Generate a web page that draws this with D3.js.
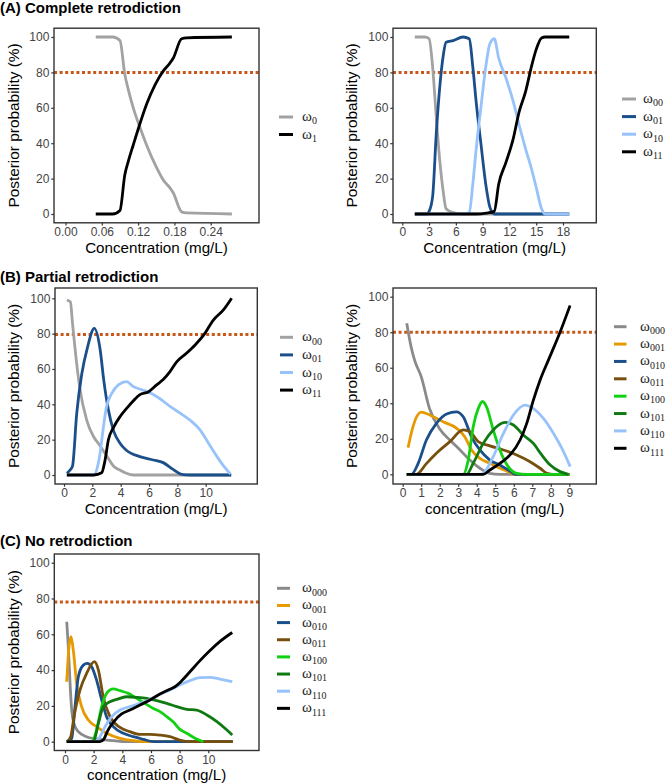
<!DOCTYPE html>
<html>
<head>
<meta charset="utf-8">
<title>Posterior probability panels</title>
<script src="https://cdnjs.cloudflare.com/ajax/libs/d3/7.8.5/d3.min.js"></script>
<style>
  body { margin: 0; background: #fff; }
  svg text { font-family: "Liberation Sans", Arial, sans-serif; }
</style>
</head>
<body>
<svg id="viz" width="666" height="784"></svg>
<script>
// ---- data: [concentration (mg/L), posterior probability (%)] ----

// (A) complete retrodiction, left
var aL_w0 = [[0.05,100],[0.078,100],[0.090,98],[0.098,79],[0.104,70],[0.112,60],[0.123,49],[0.134,39],[0.148,28],[0.162,19],[0.172,15],[0.178,12],[0.192,1.2],[0.200,0.6],[0.275,0]];
var aL_w1 = [[0.05,0],[0.078,0],[0.090,2],[0.098,22],[0.104,30],[0.112,39],[0.123,51],[0.134,62],[0.148,73],[0.162,81],[0.172,85],[0.178,88],[0.192,99],[0.200,99.5],[0.275,100]];

// (A) complete retrodiction, right
var aR_w00 = [[1.4,100],[2.5,100],[3.0,99],[3.4,83],[3.8,55],[4.2,30],[4.6,12],[4.9,3],[5.7,0.8],[6.8,0],[18.7,0]];
var aR_w01 = [[1.4,0],[2.7,0],[3.0,1.5],[3.4,10],[3.8,45],[4.2,72],[4.6,90],[4.9,97],[5.7,98],[6.8,100],[7.5,99],[7.9,83],[8.3,62],[8.8,40],[9.4,15],[9.8,4],[10.3,0],[18.7,0]];
var aR_w10 = [[1.4,0],[7.0,0],[7.5,1],[7.9,17],[8.3,38],[8.8,60],[9.4,85],[9.8,96],[10.3,99],[10.8,88],[11.6,77],[12.4,64],[13.1,50],[13.8,37],[14.5,25],[15.0,15],[15.6,3],[16.0,0],[18.7,0]];
var aR_w11 = [[1.4,0],[8.3,0],[9.4,0.5],[10.3,1.5],[10.8,17],[11.6,29],[12.4,42],[13.1,58],[13.8,69],[14.5,84],[15.0,93],[15.6,99.5],[16.0,100],[18.7,100]];

// (B) partial retrodiction, left
var bL_w00 = [[0.2,99],[0.45,98],[0.6,86],[0.8,70],[1.1,50],[1.6,31],[2.1,21.5],[2.5,17],[3.0,11],[3.5,5],[3.95,2.8],[4.4,1],[4.9,0],[11.8,0]];
var bL_w01 = [[0.2,1],[0.45,3],[0.6,5],[0.9,35],[1.25,57],[1.65,72],[2.14,83],[2.55,71],[2.8,54],[3.13,37],[3.5,25],[3.95,18],[4.4,14],[5.35,10.4],[6.3,8.5],[7.0,7],[7.7,3.2],[8.3,0.4],[8.9,0],[11.8,0]];
var bL_w10 = [[0.2,0],[2.1,0],[2.3,2.8],[2.54,12],[2.78,27],[3.0,38.7],[3.36,46],[3.84,51],[4.42,52.8],[4.9,50],[5.6,48],[6.2,46],[6.8,43],[7.5,38.7],[8.2,35],[8.9,31],[9.6,25.5],[10.2,18],[10.8,10.4],[11.3,4.7],[11.75,0.5]];
var bL_w11 = [[0.2,0],[2.1,0],[2.66,1.3],[2.9,8.5],[3.13,19.8],[3.5,27],[3.95,33],[4.42,37.7],[4.9,42],[5.36,45.5],[5.95,47],[6.54,51],[7.0,54],[7.48,58.5],[7.95,64],[8.66,69],[9.25,73.6],[9.84,79],[10.54,87.7],[11.25,93.4],[11.83,100]];

// (B) partial retrodiction, right
var bR_w000 = [[0.22,85],[0.45,72],[0.65,64],[1.0,55],[1.45,37],[2.0,25.5],[2.55,19.3],[3.1,13.7],[3.63,8],[4.17,3.4],[4.7,0.5],[5.25,0],[9.0,0]];
var bR_w001 = [[0.29,15],[0.56,27],[1.0,35],[1.46,33.4],[2.18,29.6],[2.9,26],[3.36,21],[3.72,13.7],[4.17,9],[4.71,6.2],[5.25,3.4],[5.7,1.5],[6.0,0],[9.0,0]];
var bR_w010 = [[0.22,0],[0.47,0],[0.83,6],[1.28,19.3],[1.82,28.7],[2.37,34],[2.9,35.2],[3.27,32.4],[3.72,21],[4.17,13.7],[4.71,8],[5.25,5.2],[5.7,2.4],[6.07,0],[9.0,0]];
var bR_w011 = [[0.22,0],[0.74,0],[1.28,6],[1.82,11.8],[2.55,18.4],[3.27,25],[3.63,24],[4.08,18.4],[4.71,16],[5.44,13.7],[6.16,10.9],[6.88,7.1],[7.42,3.4],[7.8,0.5],[8.15,0],[9.0,0]];
var bR_w100 = [[0.22,0],[3.27,0],[3.54,8],[3.81,26.8],[4.08,37],[4.31,41],[4.53,38],[4.89,25],[5.25,13.7],[5.7,4.3],[6.16,0.5],[6.7,0],[9.0,0]];
var bR_w101 = [[0.22,0],[3.45,0],[3.81,6.2],[4.35,17.4],[4.89,25],[5.53,29.2],[5.98,27.8],[6.52,22.1],[7.06,17.4],[7.51,10.9],[7.97,5.2],[8.5,1.5],[8.96,0]];
var bR_w110 = [[0.22,0],[4.17,0],[4.35,0.5],[4.89,10],[5.44,23],[5.98,33.4],[6.61,39],[7.06,37],[7.6,31.5],[8.15,23],[8.6,14.6],[9.05,4.3]];
var bR_w111 = [[0.22,0],[4.35,0],[4.71,2.4],[5.25,6.2],[5.8,10.9],[6.34,19.3],[6.7,28.7],[7.06,41.8],[7.42,53],[7.9,65],[8.5,80],[9.04,95]];

// (C) no retrodiction
var c_w000 = [[0.12,67],[0.25,50],[0.35,33],[0.45,19.5],[0.63,10],[0.93,5.6],[1.5,2.8],[2.44,1.3],[3.4,0.6],[4.3,0],[11.7,0]];
var c_w001 = [[0.12,33.5],[0.28,53],[0.42,58.7],[0.58,51],[0.81,32.6],[1.16,19.6],[1.63,12.1],[2.2,8.4],[2.9,4.7],[3.84,1.9],[4.77,0.6],[5.7,0],[11.7,0]];
var c_w010 = [[0.12,0],[0.47,1.9],[0.7,19.6],[0.93,36.3],[1.28,42.8],[1.56,43.8],[1.86,41.9],[2.2,34.5],[2.56,23.3],[2.9,14],[3.37,8.4],[4.07,4.7],[4.77,2.8],[5.47,1.3],[6.16,0],[11.7,0]];
var c_w011 = [[0.12,0],[0.4,2.8],[0.63,14],[1.05,28.9],[1.51,38.2],[2.05,44.7],[2.33,40],[2.67,25],[3.14,14],[3.84,8],[4.53,5.6],[5.23,4.1],[5.93,4.1],[6.63,3.7],[7.33,2.8],[8.0,0.9],[8.72,0],[11.7,0]];
var c_w100 = [[0.12,0],[1.86,0],[2.2,6.5],[2.56,19.6],[2.9,27],[3.37,29.5],[3.84,28.5],[4.42,27],[5.0,24.2],[5.58,21.4],[6.16,18.6],[6.63,16.8],[7.1,14],[7.56,11],[8.0,7],[8.5,4.7],[9.07,1.9],[9.65,0]];
var c_w101 = [[0.12,0],[1.98,0],[2.33,10.2],[2.67,19.6],[3.14,22.3],[3.6,23.6],[4.3,25.1],[5.0,24.8],[5.7,24.2],[6.4,22.9],[7.1,21.4],[7.8,19.6],[8.5,18.1],[9.19,17.7],[9.9,14.9],[10.6,11.2],[11.3,6.5],[11.67,3.7]];
var c_w110 = [[0.12,0],[2.1,0],[2.44,2.8],[2.8,8.4],[3.26,14],[3.84,17.7],[4.53,19.6],[5.23,21.4],[5.93,23.6],[6.63,26.6],[7.33,28.9],[8.0,31.7],[8.72,34.1],[9.42,35.8],[10.1,35.9],[10.8,35],[11.67,33.5]];
var c_w111 = [[0.12,0],[2.44,0],[2.7,1.3],[3.0,6.5],[3.5,12.1],[3.95,15.5],[4.53,17.7],[5.23,20.5],[5.93,23.3],[6.63,26.6],[7.2,28.9],[7.67,30.7],[8.14,34],[8.72,39.1],[9.42,45.3],[10.1,50.8],[10.8,55.9],[11.67,61]];

// tick values
var yTicks = [0, 20, 40, 60, 80, 100];
var aL_xTicks = [0, 0.06, 0.12, 0.18, 0.24];
var aR_xTicks = [0, 3, 6, 9, 12, 15, 18];
var bL_xTicks = [0, 2, 4, 6, 8, 10];
var bR_xTicks = [0, 1, 2, 3, 4, 5, 6, 7, 8, 9];
var c_xTicks = [0, 2, 4, 6, 8, 10];

// state labels (subscripts)
var aL_states = ["0", "1"];
var two_states = ["00", "01", "10", "11"];
var three_states = ["000", "001", "010", "011", "100", "101", "110", "111"];

var col = {
    grey: "#a2a2a2", grey2: "#8a8a8a", orange: "#e69a00", dblue: "#1b4f8a",
    brown: "#77500e", green: "#12d012", dgreen: "#0f7a12", lblue: "#97c3fa", black: "#000"
};

var panels = [
    { title: "(A) Complete retrodiction", titleY: 12.5,
      box: [54, 28.2, 259, 222.8], xDom: [0, 0.24], xRng: [65.5, 210.7], y0: 214, y100: 37,
      xTicks: aL_xTicks, fmt: d3.format(".2f"), thr: 80,
      series: [aL_w0, aL_w1], states: aL_states, colors: [col.grey, col.black],
      leg: { x1: 279, x2: 293, tx: 302, y: 117, step: 17.5 },
      yTitleX: 19, xTitle: "Concentration (mg/L)", xTitleY: 253 },
    { box: [393, 28.2, 596.3, 222.8], xDom: [0, 18], xRng: [402.3, 563], y0: 214, y100: 37,
      xTicks: aR_xTicks, fmt: d3.format("d"), thr: 80,
      series: [aR_w00, aR_w01, aR_w10, aR_w11], states: two_states,
      colors: [col.grey, col.dblue, col.lblue, col.black],
      leg: { x1: 622, x2: 636, tx: 643, y: 99, step: 17.6 },
      yTitleX: 357, xTitle: "Concentration (mg/L)", xTitleY: 253 },
    { title: "(B) Partial retrodiction", titleY: 282,
      box: [55, 288, 257.3, 484], xDom: [0, 10], xRng: [64, 205.7], y0: 475, y100: 298.3,
      xTicks: bL_xTicks, fmt: d3.format("d"), thr: 79.5,
      series: [bL_w00, bL_w01, bL_w10, bL_w11], states: two_states,
      colors: [col.grey, col.dblue, col.lblue, col.black],
      leg: { x1: 280, x2: 293, tx: 302, y: 337.3, step: 17.6 },
      yTitleX: 19, xTitle: "Concentration (mg/L)", xTitleY: 513.5 },
    { box: [393, 288, 596.3, 484], xDom: [0, 9], xRng: [402.7, 569.3], y0: 474.3, y100: 296.7,
      xTicks: bR_xTicks, fmt: d3.format("d"), thr: 80,
      series: [bR_w000, bR_w001, bR_w010, bR_w011, bR_w100, bR_w101, bR_w110, bR_w111],
      states: three_states,
      colors: [col.grey2, col.orange, col.dblue, col.brown, col.green, col.dgreen, col.lblue, col.black],
      leg: { x1: 614, x2: 626.5, tx: 640, y: 326.7, step: 17.37 },
      yTitleX: 357, xTitle: "concentration (mg/L)", xTitleY: 513.5 },
    { title: "(C) No retrodiction", titleY: 545.7,
      box: [54.3, 554, 259, 750.5], xDom: [0, 10], xRng: [65, 208.3], y0: 741.7, y100: 562.7,
      xTicks: c_xTicks, fmt: d3.format("d"), thr: 78,
      series: [c_w000, c_w001, c_w010, c_w011, c_w100, c_w101, c_w110, c_w111],
      states: three_states,
      colors: [col.grey2, col.orange, col.dblue, col.brown, col.green, col.dgreen, col.lblue, col.black],
      leg: { x1: 277, x2: 290, tx: 302, y: 588.3, step: 17.15 },
      yTitleX: 19, xTitle: "concentration (mg/L)", xTitleY: 780 }
];

var svg = d3.select("#viz");

panels.forEach(drawPanel);

function drawPanel(p) {
    var x = d3.scaleLinear().domain(p.xDom).range(p.xRng);
    var y = d3.scaleLinear().domain([0, 100]).range([p.y0, p.y100]);
    var g = svg.append("g");
    var bx = p.box[0], by = p.box[1], bw = p.box[2] - p.box[0], bh = p.box[3] - p.box[1];

    if (p.title) {
        svg.append("text").attr("x", 0).attr("y", p.titleY)
            .style("font-size", "15px").style("font-weight", "bold").text(p.title);
    }

    // threshold line
    g.append("line")
        .attr("x1", bx).attr("x2", bx + bw)
        .attr("y1", y(p.thr)).attr("y2", y(p.thr))
        .attr("stroke", "#c8581a").attr("stroke-width", 3)
        .attr("stroke-dasharray", "3,2.6");

    // the curves
    var line = d3.line()
        .x(function (d) { return x(d[0]); })
        .y(function (d) { return y(d[1]); })
        .curve(d3.curveMonotoneX);
    p.series.forEach(function (s, i) {
        g.append("path").attr("d", line(s))
            .attr("fill", "none").attr("stroke", p.colors[i])
            .attr("stroke-width", 2.8).attr("stroke-linejoin", "round");
    });

    // panel border
    g.append("rect").attr("x", bx).attr("y", by).attr("width", bw).attr("height", bh)
        .attr("fill", "none").attr("stroke", "#333").attr("stroke-width", 1.4);

    // axes
    var ya = g.append("g").attr("transform", "translate(" + bx + ",0)")
        .call(d3.axisLeft(y).tickValues(yTicks).tickSize(2.7).tickPadding(2));
    var xa = g.append("g").attr("transform", "translate(0," + (by + bh) + ")")
        .call(d3.axisBottom(x).tickValues(p.xTicks).tickFormat(p.fmt).tickSize(2.7).tickPadding(1.8));
    [ya, xa].forEach(function (a) {
        a.select(".domain").remove();
        a.selectAll(".tick line").attr("stroke", "#333").attr("stroke-width", 1.2);
        a.selectAll(".tick text").attr("fill", "#444")
            .style("font-size", "12px").style("font-family", "'Liberation Sans', Arial, sans-serif");
    });

    // axis titles
    g.append("text")
        .attr("transform", "translate(" + p.yTitleX + "," + (by + bh / 2) + ") rotate(-90)")
        .attr("text-anchor", "middle").style("font-size", "15.4px")
        .text("Posterior probability (%)");
    g.append("text")
        .attr("x", bx + bw / 2).attr("y", p.xTitleY)
        .attr("text-anchor", "middle").style("font-size", "15.2px")
        .text(p.xTitle);

    // legend
    p.states.forEach(function (st, i) {
        var ly = p.leg.y + i * p.leg.step;
        g.append("line").attr("x1", p.leg.x1).attr("x2", p.leg.x2)
            .attr("y1", ly).attr("y2", ly)
            .attr("stroke", p.colors[i]).attr("stroke-width", 3);
        var t = g.append("text").attr("x", p.leg.tx).attr("y", ly + 4)
            .style("font-family", "'Liberation Serif', 'Times New Roman', serif")
            .style("font-size", "15px").attr("fill", "#222");
        t.append("tspan").text("\u03c9");
        t.append("tspan").attr("dy", 3.3).style("font-size", "10px").text(st);
    });
}
</script>
</body>
</html>
